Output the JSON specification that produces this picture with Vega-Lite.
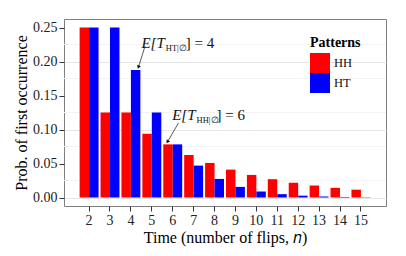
{
  "$schema": "https://vega.github.io/schema/vega-lite/v6.json",
  "width": 322,
  "height": 187,
  "autosize": {"type": "none"},
  "padding": {"left": 64, "top": 19, "right": 20, "bottom": 50},
  "background": "white",
  "config": {
    "font": "Liberation Serif",
    "view": {"stroke": "#7f7f7f", "strokeWidth": 1},
    "axis": {
      "domain": false,
      "labelFont": "Liberation Serif",
      "labelFontSize": 14,
      "labelColor": "#222222",
      "titleFont": "Liberation Serif",
      "titleFontSize": 16,
      "titleFontWeight": "normal",
      "titleColor": "#000000",
      "tickSize": 5,
      "tickColor": "#333333",
      "gridColor": "#e6e6e6",
      "gridWidth": 1,
      "labelOverlap": false
    }
  },
  "layer": [
    {
      "data": {"values": [{"g": 0.025}, {"g": 0.075}, {"g": 0.125}, {"g": 0.175}, {"g": 0.225}]},
      "mark": {"type": "rule", "color": "#f3f3f3", "strokeWidth": 1},
      "encoding": {
        "y": {
          "field": "g",
          "type": "quantitative",
          "scale": {"domain": [-0.0125, 0.2625], "nice": false, "zero": false},
          "axis": {
            "title": "Prob. of first occurrence",
            "orient": "left",
            "values": [0, 0.1, 0.2],
            "format": ".2f",
            "labelPadding": 2,
            "titlePadding": 3
          }
        }
      }
    },
    {
      "data": {
        "values": [
          {"n": 2, "pattern": "HH", "p": 0.25},
          {"n": 3, "pattern": "HH", "p": 0.125},
          {"n": 4, "pattern": "HH", "p": 0.125},
          {"n": 5, "pattern": "HH", "p": 0.09375},
          {"n": 6, "pattern": "HH", "p": 0.078125},
          {"n": 7, "pattern": "HH", "p": 0.0625},
          {"n": 8, "pattern": "HH", "p": 0.0508},
          {"n": 9, "pattern": "HH", "p": 0.041},
          {"n": 10, "pattern": "HH", "p": 0.0332},
          {"n": 11, "pattern": "HH", "p": 0.0269},
          {"n": 12, "pattern": "HH", "p": 0.0217},
          {"n": 13, "pattern": "HH", "p": 0.0176},
          {"n": 14, "pattern": "HH", "p": 0.0142},
          {"n": 15, "pattern": "HH", "p": 0.0115},
          {"n": 2, "pattern": "HT", "p": 0.25},
          {"n": 3, "pattern": "HT", "p": 0.25},
          {"n": 4, "pattern": "HT", "p": 0.1875},
          {"n": 5, "pattern": "HT", "p": 0.125},
          {"n": 6, "pattern": "HT", "p": 0.078125},
          {"n": 7, "pattern": "HT", "p": 0.0469},
          {"n": 8, "pattern": "HT", "p": 0.0273},
          {"n": 9, "pattern": "HT", "p": 0.0156},
          {"n": 10, "pattern": "HT", "p": 0.0088},
          {"n": 11, "pattern": "HT", "p": 0.0049},
          {"n": 12, "pattern": "HT", "p": 0.0027},
          {"n": 13, "pattern": "HT", "p": 0.0015},
          {"n": 14, "pattern": "HT", "p": 0.0008},
          {"n": 15, "pattern": "HT", "p": 0.0004}
        ]
      },
      "mark": {"type": "bar"},
      "encoding": {
        "x": {
          "field": "n",
          "type": "ordinal",
          "scale": {"paddingInner": 0, "paddingOuter": 0.7},
          "axis": {
            "title": "Time (number of flips, 𝑛)",
            "labelAngle": 0,
            "bandPosition": 0.5,
            "labelPadding": 2,
            "titlePadding": 2
          }
        },
        "xOffset": {
          "field": "pattern",
          "scale": {"paddingInner": 0, "paddingOuter": 0.105}
        },
        "y": {
          "field": "p",
          "type": "quantitative",
          "axis": {
            "title": null,
            "orient": "left",
            "values": [0.05, 0.15, 0.25],
            "format": ".2f",
            "labelPadding": 2
          }
        },
        "y2": {"datum": 0},
        "color": {
          "field": "pattern",
          "type": "nominal",
          "scale": {"domain": ["HH", "HT"], "range": ["#ff0000", "#0000ff"]},
          "legend": {
            "title": "Patterns",
            "orient": "none",
            "legendX": 246,
            "legendY": 17,
            "titleFont": "Liberation Serif",
            "titleFontSize": 14,
            "titleFontWeight": "bold",
            "titleColor": "#000000",
            "titlePadding": 3,
            "labelFont": "Liberation Serif",
            "labelFontSize": 12.5,
            "labelColor": "#111111",
            "labelOffset": 4,
            "symbolType": "square",
            "symbolSize": 400,
            "symbolStrokeWidth": 0,
            "symbolOpacity": 1,
            "rowPadding": 0
          }
        }
      }
    },
    {
      "layer": [
        {
          "data": {
            "values": [
              {"x": 5.633, "y": 0.2272, "head": "E[T", "sub": "HT|∅", "tail": "] = 4"},
              {"x": 7.354, "y": 0.1213, "head": "E[T", "sub": "HH|∅", "tail": "] = 6"}
            ]
          },
          "layer": [
            {
              "mark": {"type": "text", "align": "right", "baseline": "middle", "fontSize": 15, "fontStyle": "italic", "color": "#111111"},
              "encoding": {
                "x": {"field": "x", "type": "quantitative", "scale": {"domain": [0.805, 16.195]}, "axis": null},
                "y": {"field": "y", "type": "quantitative", "axis": null},
                "text": {"field": "head"}
              }
            },
            {
              "mark": {"type": "text", "align": "left", "baseline": "middle", "fontSize": 8.5, "dx": 1, "dy": 5, "color": "#111111"},
              "encoding": {
                "x": {"field": "x", "type": "quantitative", "axis": null},
                "y": {"field": "y", "type": "quantitative", "axis": null},
                "text": {"field": "sub"}
              }
            },
            {
              "mark": {"type": "text", "align": "left", "baseline": "middle", "fontSize": 15, "dx": 21, "color": "#111111"},
              "encoding": {
                "x": {"field": "x", "type": "quantitative", "axis": null},
                "y": {"field": "y", "type": "quantitative", "axis": null},
                "text": {"field": "tail"}
              }
            }
          ]
        },
        {
          "data": {
            "values": [
              {"x": 4.533, "y": 0.2228, "x2": 4.17, "y2": 0.1925},
              {"x": 6.398, "y": 0.1096, "x2": 5.80, "y2": 0.0825}
            ]
          },
          "mark": {"type": "rule", "color": "#111111", "strokeWidth": 0.7},
          "encoding": {
            "x": {"field": "x", "type": "quantitative", "axis": null},
            "y": {"field": "y", "type": "quantitative", "axis": null},
            "x2": {"field": "x2"},
            "y2": {"field": "y2"}
          }
        },
        {
          "data": {"values": [{"x": 4.17, "y": 0.1925}]},
          "mark": {"type": "point", "shape": "triangle", "filled": true, "size": 16, "angle": 200, "color": "#111111", "opacity": 1},
          "encoding": {
            "x": {"field": "x", "type": "quantitative", "axis": null},
            "y": {"field": "y", "type": "quantitative", "axis": null}
          }
        },
        {
          "data": {"values": [{"x": 5.80, "y": 0.0825}]},
          "mark": {"type": "point", "shape": "triangle", "filled": true, "size": 16, "angle": 213, "color": "#111111", "opacity": 1},
          "encoding": {
            "x": {"field": "x", "type": "quantitative", "axis": null},
            "y": {"field": "y", "type": "quantitative", "axis": null}
          }
        }
      ]
    }
  ],
  "resolve": {"scale": {"x": "independent"}, "axis": {"y": "independent"}}
}
